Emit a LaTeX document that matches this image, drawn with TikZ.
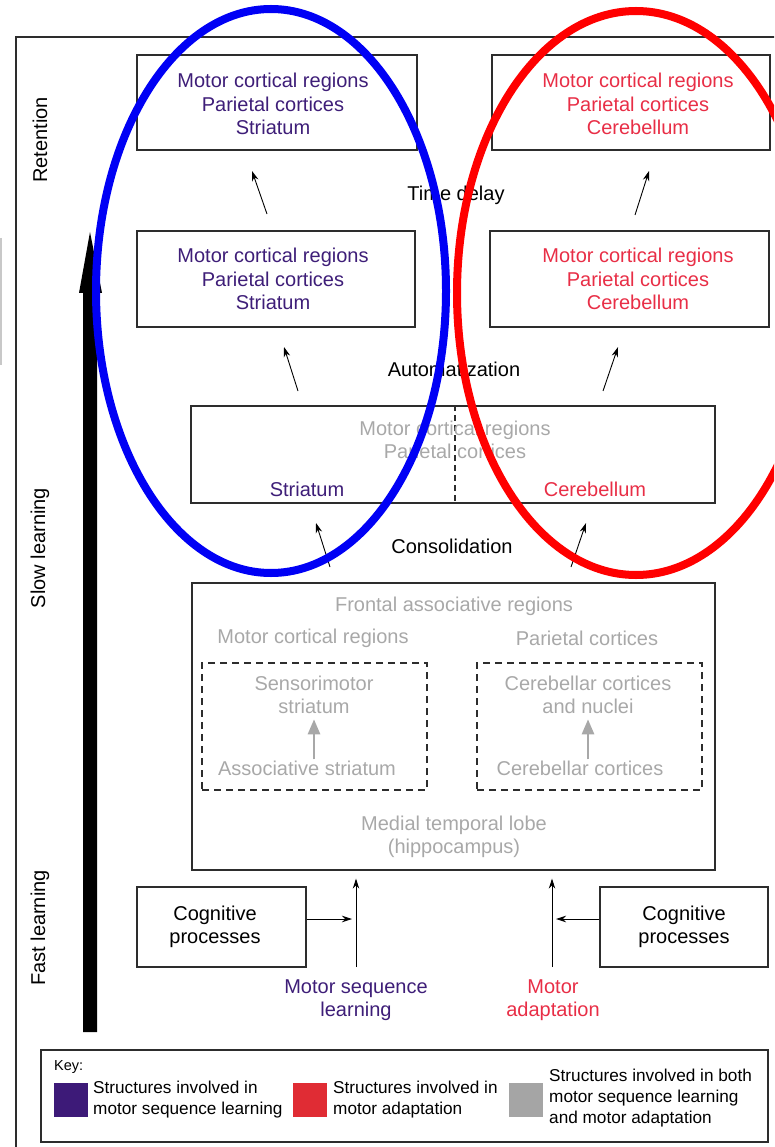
\documentclass[tikz,border=0pt]{standalone}
\usepackage{fontspec}
\setmainfont{Liberation Sans}
\usetikzlibrary{arrows.meta,calc}

\definecolor{purp}{RGB}{62,30,120}
\definecolor{redt}{RGB}{232,46,70}
\definecolor{grayt}{RGB}{168,168,168}
\definecolor{keypurp}{RGB}{61,26,120}
\definecolor{keyred}{RGB}{224,44,52}
\definecolor{keygray}{RGB}{165,165,165}
\definecolor{boxline}{RGB}{45,45,45}
\definecolor{ovblue}{RGB}{0,0,245}
\definecolor{ovred}{RGB}{255,0,0}

\newcommand\mainsz{\fontsize{20}{23.5}\selectfont}
\newcommand\keysz{\fontsize{17.2}{21}\selectfont}
\newcommand\keyhd{\fontsize{14.5}{16}\selectfont}

\begin{document}
\begin{tikzpicture}[x=1pt,y=-1pt,
  frame/.style={draw=boxline,line width=1.3pt,inner sep=0pt},
  dbox/.style={draw=boxline,line width=1.3pt,inner sep=0pt,dash pattern=on 7pt off 5pt},
  txt/.style={inner sep=0pt,align=center,font=\mainsz},
  arr/.style={line width=0.9pt,-{Stealth[length=10pt,width=6.5pt]}},
  garr/.style={draw=grayt,line width=2.6pt,-{Triangle[length=15pt,width=12pt]}},
  oval/.style={line width=8pt}
]
\path[use as bounding box,clip] (0,0) rectangle (774,1147);

% outer frame and margin mark
\draw[boxline,line width=1.3pt] (16,1152) -- (16,37) -- (780,37);
\draw[draw={rgb,255:red,200;green,200;blue,200},line width=2pt] (1,238) -- (1,365);

% phase labels
\node[txt,rotate=90] (ret) at (40,140) {Retention};
\node[txt,rotate=90] (slow) at (40,548) {Slow learning};
\node[txt,rotate=90] (fast) at (40,928) {Fast learning};

% time axis arrow
\fill (83,1032) -- (83,293) -- (79,293) -- (90,232) -- (102,293) -- (97,293) -- (97,1032) -- cycle;

% retention stage
\node[frame,minimum width=280pt,minimum height=95pt] (r1) at (277,102.5) {};
\node[txt,text=purp] (r1t) at (273,104) {Motor cortical regions\\Parietal cortices\\Striatum};
\node[frame,minimum width=278pt,minimum height=95pt] (r2) at (631,102.5) {};
\node[txt,text=redt] (r2t) at (638,104) {Motor cortical regions\\Parietal cortices\\Cerebellum};

\node[txt] (delay) at (456,195) {Time delay};

% automatization stage
\node[frame,minimum width=278pt,minimum height=96pt] (a1) at (276,279) {};
\node[txt,text=purp] (a1t) at (273,279) {Motor cortical regions\\Parietal cortices\\Striatum};
\node[frame,minimum width=279pt,minimum height=96pt] (a2) at (629.5,279) {};
\node[txt,text=redt] (a2t) at (638,279) {Motor cortical regions\\Parietal cortices\\Cerebellum};

\node[txt] (auto) at (454,369) {Automatization};

% consolidation stage
\node[frame,minimum width=524pt,minimum height=97pt] (c) at (453,454.5) {};
\draw[boxline,line width=1.3pt,dash pattern=on 6pt off 4pt] ([xshift=2pt]c.north) -- ([xshift=2pt]c.south);
\node[txt,text=grayt] (ct) at (455,440) {Motor cortical regions\\Parietal cortices};
\node[txt,text=purp] (cstr) at (307,489) {Striatum};
\node[txt,text=redt] (ccer) at (595,489) {Cerebellum};

\node[txt] (cons) at (452,546) {Consolidation};

% fast learning stage
\node[frame,minimum width=523pt,minimum height=287pt] (f) at (453.5,726.5) {};
\node[txt,text=grayt] (front) at (454,606) {Frontal associative regions};
\node[txt,text=grayt] (fmot) at (313,638) {Motor cortical regions};
\node[txt,text=grayt] (fpar) at (587,638) {Parietal cortices};
\node[dbox,minimum width=225pt,minimum height=127pt] (ld) at (314.5,726.5) {};
\node[dbox,minimum width=225pt,minimum height=127pt] (rd) at (589.5,726.5) {};
\node[txt,text=grayt] (sens) at (314,695) {Sensorimotor\\striatum};
\node[txt,text=grayt] (assoc) at (307,768) {Associative striatum};
\node[txt,text=grayt] (cbn) at (588,695) {Cerebellar cortices\\and nuclei};
\node[txt,text=grayt] (cbc) at (580,768) {Cerebellar cortices};
\node[txt,text=grayt] (mtl) at (454,837) {Medial temporal lobe\\(hippocampus)};

\draw[garr] ([yshift=1pt]sens.south |- assoc.north) -- ([yshift=-5pt]sens.south);
\draw[garr] ([yshift=1pt]cbn.south |- cbc.north) -- ([yshift=-5pt]cbn.south);

% inputs
\node[frame,minimum width=169pt,minimum height=80pt] (cogl) at (221.5,927) {};
\node[txt] (coglt) at (215,927) {Cognitive\\processes};
\node[frame,minimum width=168pt,minimum height=80pt] (cogr) at (684,927) {};
\node[txt] (cogrt) at (684,927) {Cognitive\\processes};

\coordinate (msl) at (356,967);
\coordinate (mad) at (552,967);
\node[txt,text=purp] (mslt) at (356,1000) {Motor sequence\\learning};
\node[txt,text=redt] (madt) at (553,1000) {Motor\\adaptation};

\draw[arr] (msl) -- ([yshift=-8pt]msl |- f.south);
\draw[arr] (mad) -- ([yshift=-8pt]mad |- f.south);
\draw[arr] ([yshift=8pt]cogl.east) -- ([xshift=-4pt,yshift=8pt]msl |- cogl.east);
\draw[arr] ([yshift=8pt]cogr.west) -- ([xshift=4pt,yshift=8pt]mad |- cogr.west);

% stage transitions
\coordinate (t1s) at (330,567); \coordinate (t1e) at (316,523);
\coordinate (t2s) at (571,567); \coordinate (t2e) at (586,523);
\coordinate (t3s) at (298,391); \coordinate (t3e) at (284,347);
\coordinate (t4s) at (603,391); \coordinate (t4e) at (618,347);
\coordinate (t5s) at (267,214); \coordinate (t5e) at (252,171);
\coordinate (t6s) at (635,215); \coordinate (t6e) at (649,171);
\foreach \a in {1,...,6} {\draw[arr] (t\a s) -- (t\a e);}

% key
\node[frame,minimum width=727pt,minimum height=92pt] (key) at (404.5,1096) {};
\node[inner sep=0pt,anchor=west,font=\keyhd] (keyh) at (54,1067) {Key:};
\node[fill=keypurp,minimum size=34pt,inner sep=0pt] (kp) at (71,1100) {};
\node[fill=keyred,minimum size=34pt,inner sep=0pt] (kr) at (310,1100) {};
\node[fill=keygray,minimum size=34pt,inner sep=0pt] (kg) at (526,1100) {};
\node[inner sep=0pt,anchor=west,align=left,font=\keysz] (kpt) at (93,1100) {Structures involved in\\motor sequence learning};
\node[inner sep=0pt,anchor=west,align=left,font=\keysz] (krt) at (333,1100) {Structures involved in\\motor adaptation};
\node[inner sep=0pt,anchor=west,align=left,font=\keysz] (kgt) at (549,1098) {Structures involved in both\\motor sequence learning\\and motor adaptation};

% highlight ovals
\draw[oval,ovblue] (271,291) ellipse [x radius=175, y radius=282];
\draw[oval,ovred] (636,293) ellipse [x radius=179, y radius=282];
\end{tikzpicture}
\end{document}
